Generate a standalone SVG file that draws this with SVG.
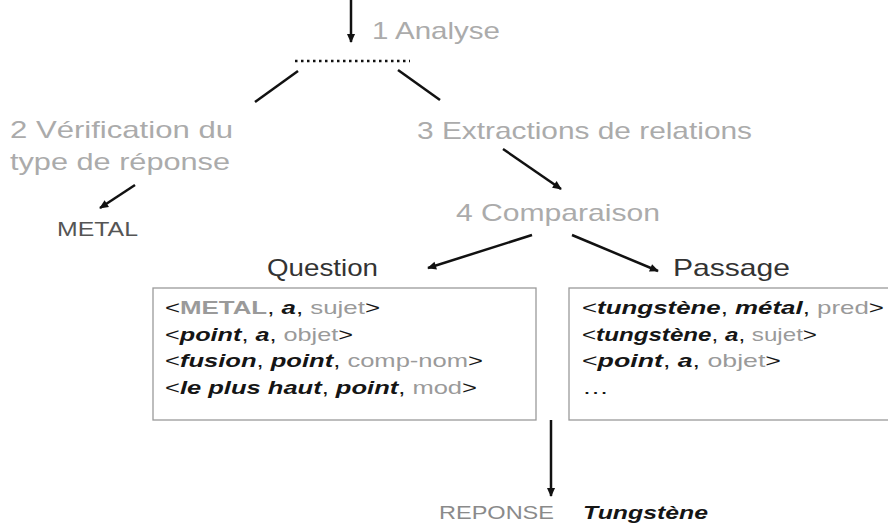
<svg xmlns="http://www.w3.org/2000/svg" width="888" height="528" viewBox="0 0 888 528">
<defs>
<marker id="ah" viewBox="0 0 10 10" refX="9" refY="5" markerWidth="10" markerHeight="9" orient="auto" markerUnits="userSpaceOnUse">
<path d="M0,0.5 L10,5 L0,9.5 z" fill="#111"/>
</marker>
<style>
text{font-family:"Liberation Sans",Arial,sans-serif}
.step{font-size:24px;fill:#ababab}
.hd{font-size:24px;fill:#333}
.rel{font-size:19px;fill:#151515}
.g{fill:#9a9a9a}
.bi{font-style:italic;font-weight:bold}
.b{font-weight:bold}
.ln{stroke:#111;stroke-width:2.5;fill:none}
.box{fill:#fff;stroke:#9a9a9a;stroke-width:1.3}
</style>
</defs>
<rect width="888" height="528" fill="#fff"/>
<g id="connectors">
<line class="ln" x1="351" y1="0" x2="351" y2="42" marker-end="url(#ah)"/>
<line x1="295" y1="61" x2="410" y2="61" stroke="#111" stroke-width="2.5" stroke-dasharray="2.5,3.5"/>
<line class="ln" x1="298" y1="71" x2="255" y2="102"/>
<line class="ln" x1="398" y1="70" x2="440" y2="100"/>
<line class="ln" x1="135" y1="185" x2="100" y2="208" marker-end="url(#ah)"/>
<line class="ln" x1="503" y1="149" x2="561" y2="189" marker-end="url(#ah)"/>
<line class="ln" x1="532" y1="235" x2="428" y2="268" marker-end="url(#ah)"/>
<line class="ln" x1="572" y1="235" x2="658" y2="271" marker-end="url(#ah)"/>
<line class="ln" x1="551" y1="420" x2="551" y2="496" marker-end="url(#ah)"/>
</g>
<g id="analyse"><text class="step" x="372" y="39" textLength="128" lengthAdjust="spacingAndGlyphs">1 Analyse</text></g>
<g id="verification"><text class="step" x="10" y="138" textLength="223" lengthAdjust="spacingAndGlyphs">2 Vérification du</text><text class="step" x="10" y="170" textLength="220" lengthAdjust="spacingAndGlyphs">type de réponse</text></g>
<g id="metal"><text x="57" y="236" font-size="21" fill="#555" textLength="81" lengthAdjust="spacingAndGlyphs">METAL</text></g>
<g id="extractions"><text class="step" x="417" y="139" textLength="335" lengthAdjust="spacingAndGlyphs">3 Extractions de relations</text></g>
<g id="comparaison"><text class="step" x="456" y="221" textLength="204" lengthAdjust="spacingAndGlyphs">4 Comparaison</text></g>
<g id="question">
<text class="hd" x="267" y="276" textLength="111" lengthAdjust="spacingAndGlyphs">Question</text>
<rect class="box" x="153" y="288" width="383" height="132"/>
<text class="rel" x="165" y="314" textLength="215" lengthAdjust="spacingAndGlyphs">&lt;<tspan class="g b">METAL</tspan>, <tspan class="bi">a</tspan>, <tspan class="g">sujet</tspan>&gt;</text>
<text class="rel" x="165" y="341" textLength="188" lengthAdjust="spacingAndGlyphs">&lt;<tspan class="bi">point</tspan>, <tspan class="bi">a</tspan>, <tspan class="g">objet</tspan>&gt;</text>
<text class="rel" x="165" y="367" textLength="318" lengthAdjust="spacingAndGlyphs">&lt;<tspan class="bi">fusion</tspan>, <tspan class="bi">point</tspan>, <tspan class="g">comp-nom</tspan>&gt;</text>
<text class="rel" x="165" y="394" textLength="312" lengthAdjust="spacingAndGlyphs">&lt;<tspan class="bi">le plus haut</tspan>, <tspan class="bi">point</tspan>, <tspan class="g">mod</tspan>&gt;</text>
</g>
<g id="passage">
<text class="hd" x="673" y="276" textLength="117" lengthAdjust="spacingAndGlyphs">Passage</text>
<rect class="box" x="569" y="288" width="330" height="132"/>
<text class="rel" x="582" y="314" textLength="302" lengthAdjust="spacingAndGlyphs">&lt;<tspan class="bi">tungstène</tspan>, <tspan class="bi">métal</tspan>, <tspan class="g">pred</tspan>&gt;</text>
<text class="rel" x="582" y="341" textLength="235" lengthAdjust="spacingAndGlyphs">&lt;<tspan class="bi">tungstène</tspan>, <tspan class="bi">a</tspan>, <tspan class="g">sujet</tspan>&gt;</text>
<text class="rel" x="582" y="367" textLength="199" lengthAdjust="spacingAndGlyphs">&lt;<tspan class="bi">point</tspan>, <tspan class="bi">a</tspan>, <tspan class="g">objet</tspan>&gt;</text>
<text class="rel" x="582" y="394" textLength="27" lengthAdjust="spacingAndGlyphs">…</text>
</g>
<g id="reponse">
<text x="439" y="519" font-size="19" fill="#8a8a8a" textLength="115" lengthAdjust="spacingAndGlyphs">REPONSE</text>
<text x="583" y="519" font-size="19" font-style="italic" font-weight="bold" fill="#151515" textLength="125" lengthAdjust="spacingAndGlyphs">Tungstène</text>
</g>
</svg>
